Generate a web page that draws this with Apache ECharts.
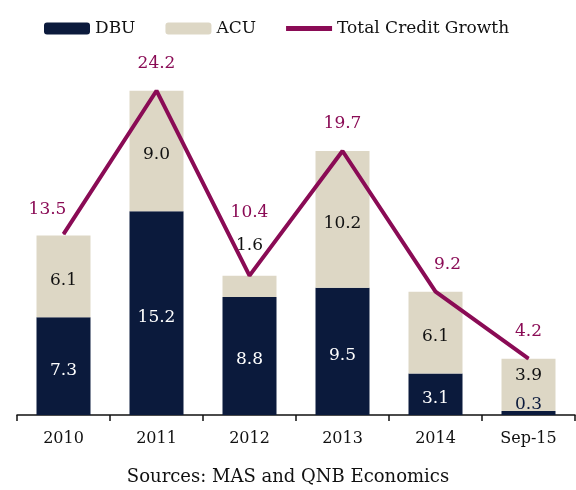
<!DOCTYPE html>
<html>
<head>
<meta charset="utf-8">
<script src="https://cdn.jsdelivr.net/npm/echarts@6/dist/echarts.min.js"></script>
<style>
  html, body { margin: 0; padding: 0; background: #fff; }
  #chart { width: 576px; height: 490px; }
</style>
</head>
<body>
<div id="chart"></div>
<script>
// credit growth, % y-o-y
var years = ['2010', '2011', '2012', '2013', '2014', 'Sep-15'];
var dbu = [7.3, 15.2, 8.8, 9.5, 3.1, 0.3];
var acu = [6.1, 9.0, 1.6, 10.2, 6.1, 3.9];
var total = [13.5, 24.2, 10.4, 19.7, 9.2, 4.2];

var FONT = 'DejaVu Serif';
var chart = echarts.init(document.getElementById('chart'));

function oneDec(p) {
    return Number(p.value).toFixed(1);
}

// small segments get their label put above the bar
var dbuData = dbu.map(function (v) {
    if (v < 1) {
        return { value: v, label: { position: 'top', distance: 0, offset: [0, 2], color: '#0b1a3c' } };
    }
    return v;
});
var acuData = acu.map(function (v, i) {
    if (v < 2) {
        return { value: v, label: { position: 'top', distance: 22, offset: [0, 0], color: '#111' } };
    }
    if (i === acu.length - 1) {
        return { value: v, label: { offset: [0, -9] } };
    }
    return v;
});
// a few line labels are nudged as in the original
var totalData = total.map(function (v, i) {
    if (i === 0) return { value: v, label: { offset: [-16, 2] } };
    if (i === 2) return { value: v, label: { distance: 54 } };
    if (i === 4) return { value: v, label: { offset: [12, 0] } };
    return v;
});

var option = {
    animation: false,
    textStyle: { fontFamily: FONT },
    legend: {
        data: ['DBU', 'ACU', { name: 'Total Credit Growth', icon: 'path://M0,0 L46,0 L46,5 L0,5 Z' }],
        top: 15,
        left: 39,
        itemWidth: 46,
        itemHeight: 12,
        itemGap: 30,
        textStyle: { fontFamily: FONT, fontSize: 17, color: '#111' }
    },
    grid: {
        left: 17,
        right: 1,
        top: 13,
        bottom: 75
    },
    xAxis: {
        type: 'category',
        data: years,
        axisLine: { lineStyle: { color: '#111', width: 1.5 } },
        axisTick: { show: true, interval: 0, alignWithLabel: false, length: 6, lineStyle: { color: '#111', width: 1.5 } },
        axisLabel: { color: '#111', fontSize: 16, margin: 16, fontFamily: FONT }
    },
    yAxis: {
        type: 'value',
        min: 0,
        max: 30,
        show: false,
        splitLine: { show: false }
    },
    graphic: [{
        type: 'text',
        left: 'center',
        top: 468,
        style: {
            text: 'Sources: MAS and QNB Economics',
            font: '18px "DejaVu Serif"',
            fill: '#111'
        }
    }],
    series: [{
        name: 'DBU',
        type: 'bar',
        stack: 'credit',
        barWidth: 54,
        data: dbuData,
        itemStyle: { color: '#0b1a3c' },
        label: { show: true, position: 'inside', offset: [0, 4], color: '#fff', fontSize: 17, fontFamily: FONT, formatter: oneDec }
    },
    {
        name: 'ACU',
        type: 'bar',
        stack: 'credit',
        barWidth: 54,
        data: acuData,
        itemStyle: { color: '#ddd7c5' },
        label: { show: true, position: 'inside', offset: [0, 4], color: '#111', fontSize: 17, fontFamily: FONT, formatter: oneDec }
    },
    {
        name: 'Total Credit Growth',
        type: 'line',
        data: totalData,
        symbol: 'circle',
        symbolSize: 1,
        itemStyle: { color: '#8a0b55' },
        lineStyle: { color: '#8a0b55', width: 4 },
        label: { show: true, position: 'top', distance: 18, color: '#8a0b55', fontSize: 17, fontFamily: FONT, formatter: oneDec },
        z: 5
    }]
};
chart.setOption(option);
</script>
</body>
</html>
